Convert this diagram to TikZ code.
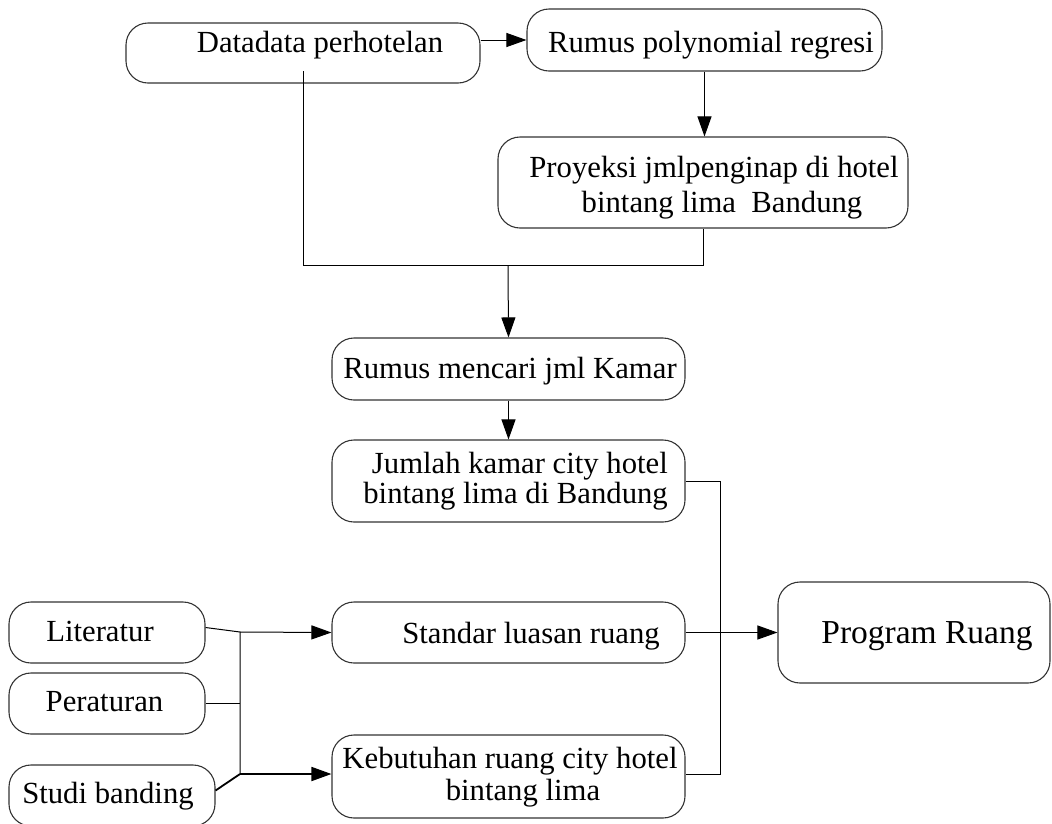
\documentclass[tikz,border=0pt]{standalone}
\usepackage{fontspec}
\setmainfont{Liberation Serif}
\usetikzlibrary{arrows.meta,calc}
\tikzset{
  boxnode/.style={draw=black!80, line width=1.1pt, rounded corners=22pt, inner sep=0pt, fill=white},
  txt/.style={inner sep=0pt, anchor=base, font=\fontsize{30.7}{35}\selectfont},
  bigtxt/.style={inner sep=0pt, anchor=base, font=\fontsize{33.5}{38}\selectfont},
  conn/.style={line width=1pt, black},
  thickconn/.style={line width=1.8pt, black},
  arr/.style={-{Triangle[length=20pt,width=14pt]}}
}
\begin{document}
\begin{tikzpicture}[x=1pt,y=-1pt]
\useasboundingbox (0,0) rectangle (1052,823);
\clip (0,0) rectangle (1052,823);
% boxes
\node[boxnode, minimum width=354pt, minimum height=60pt] (bData) at (303,53) {};
\node[boxnode, minimum width=355pt, minimum height=62pt] (bRP) at (704.5,40) {};
\node[boxnode, minimum width=410pt, minimum height=91pt] (bPro) at (703,182.5) {};
\node[boxnode, minimum width=353pt, minimum height=62pt] (bRM) at (508.5,369) {};
\node[boxnode, minimum width=353pt, minimum height=82pt] (bJum) at (508.5,481) {};
\node[boxnode, minimum width=353pt, minimum height=61pt] (bStd) at (508.5,632.5) {};
\node[boxnode, minimum width=353pt, minimum height=83pt] (bKeb) at (508.5,776.5) {};
\node[boxnode, minimum width=272pt, minimum height=101pt] (bProg) at (914,632.5) {};
\node[boxnode, minimum width=196pt, minimum height=61pt] (bLit) at (107,632.5) {};
\node[boxnode, minimum width=196pt, minimum height=61pt] (bPer) at (107,703.5) {};
\node[boxnode, minimum width=206pt, minimum height=61pt] (bStu) at (112,795.5) {};
% texts
\node[txt] (tData) at (320,52) {Datadata perhotelan};
\node[txt] (tRP) at (711,52) {Rumus polynomial regresi};
\node[txt] (tPro1) at (714,177) {Proyeksi jmlpenginap di hotel};
\node[txt] (tPro2) at (722,212) {bintang lima\ \ Bandung};
\node[txt] (tRM) at (510,378) {Rumus mencari jml Kamar};
\node[txt, anchor=base east] (tJum1) at (668,473) {Jumlah kamar city hotel};
\node[txt, anchor=base east] (tJum2) at (668,503) {bintang lima di Bandung};
\node[txt, anchor=base east] (tStd) at (660,643) {Standar luasan ruang};
\node[txt] (tKeb1) at (510,768) {Kebutuhan ruang city hotel};
\node[txt] (tKeb2) at (523,800) {bintang lima};
\node[bigtxt] (tProg) at (927,643) {Program Ruang};
\node[txt] (tLit) at (100,641) {Literatur};
\node[txt] (tPer) at (104.5,711) {Peraturan};
\node[txt] (tStu) at (108,803) {Studi banding};
% junction coordinates
\coordinate (j1) at (508,265);
\coordinate (vR) at (720,0);
\coordinate (jL) at (240,632);
\coordinate (jS) at (240,774);
% connectors
\draw[conn, arr] (bData.east |- bRP.west) -- (bRP.west);
\draw[conn, arr] (bRP.south) -- (bRP.south |- bPro.north);
\draw[conn] ([yshift=-18pt]bData.center) |- (bPro.south |- j1) -- (bPro.south);
\draw[conn, arr] (j1) -- (bRM.north);
\draw[conn, arr] (bRM.south) -- (bRM.south |- bJum.north);
\draw[conn] (bJum.east) -| (vR |- jS) -- (bKeb.east |- jS);
\draw[conn, arr] (bStd.east) -- (bProg.west);
\draw[conn] ([yshift=5pt]bLit.east) -- (jL) -- (jS);
\draw[conn] (bPer.east) -- (bPer.east -| jL);
\draw[thickconn] ([yshift=5pt]bStu.east) -- (jS);
\draw[conn, arr] (jL) -- (bStd.west);
\draw[thickconn, arr] (jS) -- (bKeb.west |- jS);
\end{tikzpicture}
\end{document}
